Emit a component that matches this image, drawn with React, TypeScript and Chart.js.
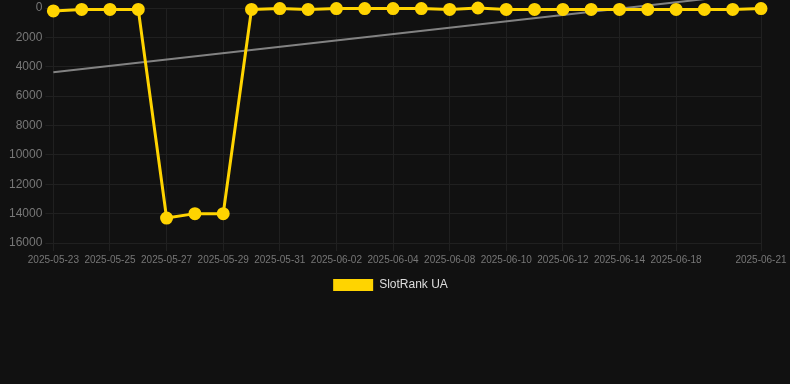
import React, { useEffect, useRef } from 'react';
import { Chart, registerables } from 'chart.js';

Chart.register(...registerables);

const dates = [
  '2025-05-23', '2025-05-24', '2025-05-25', '2025-05-26', '2025-05-27', '2025-05-28',
  '2025-05-29', '2025-05-30', '2025-05-31', '2025-06-01', '2025-06-02', '2025-06-03',
  '2025-06-04', '2025-06-06', '2025-06-08', '2025-06-09', '2025-06-10', '2025-06-11',
  '2025-06-12', '2025-06-13', '2025-06-14', '2025-06-16', '2025-06-18', '2025-06-19',
  '2025-06-20', '2025-06-21',
];

const rankValues = [
  200, 100, 100, 100, 14300, 14000, 14000, 100, 40, 100, 40, 40, 40,
  40, 100, 1, 100, 100, 100, 100, 100, 100, 100, 100, 100, 40,
];

const shownTickLabels = [
  '2025-05-23', '2025-05-25', '2025-05-27', '2025-05-29', '2025-05-31', '2025-06-02',
  '2025-06-04', '2025-06-08', '2025-06-10', '2025-06-12', '2025-06-14', '2025-06-18',
  '2025-06-21',
];

const trendValues = [4370, -1040];

const yTicks = [0, 2000, 4000, 6000, 8000, 10000, 12000, 14000, 16000];

const legendShift = {
  id: 'legendShift',
  afterLayout(chart: any) {
    if (chart.legend) {
      chart.legend.left += 7;
      chart.legend.right += 7;
    }
  },
};

export default function App() {
  const ref = useRef<HTMLCanvasElement>(null);

  useEffect(() => {
    document.body.style.margin = '0';
    document.body.style.background = '#111111';
    const font = "'Liberation Sans', Arial, Helvetica, sans-serif";
    const gridColor = '#202020';
    const yellow = '#ffd400';
    const chart = new Chart(ref.current as HTMLCanvasElement, {
      type: 'line',
      data: {
        labels: dates,
        datasets: [
          {
            label: 'SlotRank UA',
            data: rankValues,
            borderColor: yellow,
            backgroundColor: yellow,
            pointBackgroundColor: yellow,
            pointBorderColor: yellow,
            borderWidth: 3,
            pointRadius: 5,
            tension: 0,
            clip: false,
          },
          {
            label: 'Trend',
            data: [
              { x: dates[0], y: trendValues[0] },
              { x: dates[dates.length - 1], y: trendValues[1] },
            ],
            borderColor: 'rgba(150,150,150,0.85)',
            backgroundColor: 'rgba(150,150,150,0.85)',
            borderWidth: 2,
            pointRadius: 0,
            tension: 0,
            clip: false,
          },
        ],
      },
      options: {
        animation: false,
        responsive: true,
        maintainAspectRatio: false,
        layout: { padding: { left: 6, right: 29, top: 0, bottom: 83 } },
        font: { family: font },
        scales: {
          x: {
            type: 'category',
            grid: {
              color: (ctx: any) =>
                ctx.tick && shownTickLabels.includes(dates[ctx.index]) ? gridColor : 'transparent',
            },
            border: { display: false },
            ticks: {
              autoSkip: false,
              maxRotation: 0,
              minRotation: 0,
              color: '#777777',
              font: { family: font, size: 10 },
              callback: (_v: any, i: number) =>
                shownTickLabels.includes(dates[i]) ? dates[i] : '',
            },
          },
          y: {
            reverse: true,
            min: 0,
            max: 16000,
            afterBuildTicks: (axis: any) => {
              axis.ticks = yTicks.map((v) => ({ value: v }));
            },
            grid: { color: gridColor },
            border: { display: false },
            ticks: {
              color: '#777777',
              font: { family: font, size: 12, lineHeight: 0.5 },
              callback: (v: any) => String(v),
            },
          },
        },
        plugins: {
          legend: {
            position: 'bottom',
            labels: {
              color: '#dddddd',
              font: { family: font, size: 12 },
              boxWidth: 40,
              boxHeight: 12,
              filter: (item: any) => item.text === 'SlotRank UA',
              generateLabels: (c: any) =>
                Chart.defaults.plugins.legend.labels
                  .generateLabels(c)
                  .map((it: any) => ({ ...it, lineWidth: 0 })),
            },
          },
          tooltip: { enabled: false },
        },
      },
      plugins: [legendShift],
    });
    return () => chart.destroy();
  }, []);

  return (
    <div style={{ width: 790, height: 384, background: '#111111', position: 'relative' }}>
      <canvas ref={ref} />
    </div>
  );
}
